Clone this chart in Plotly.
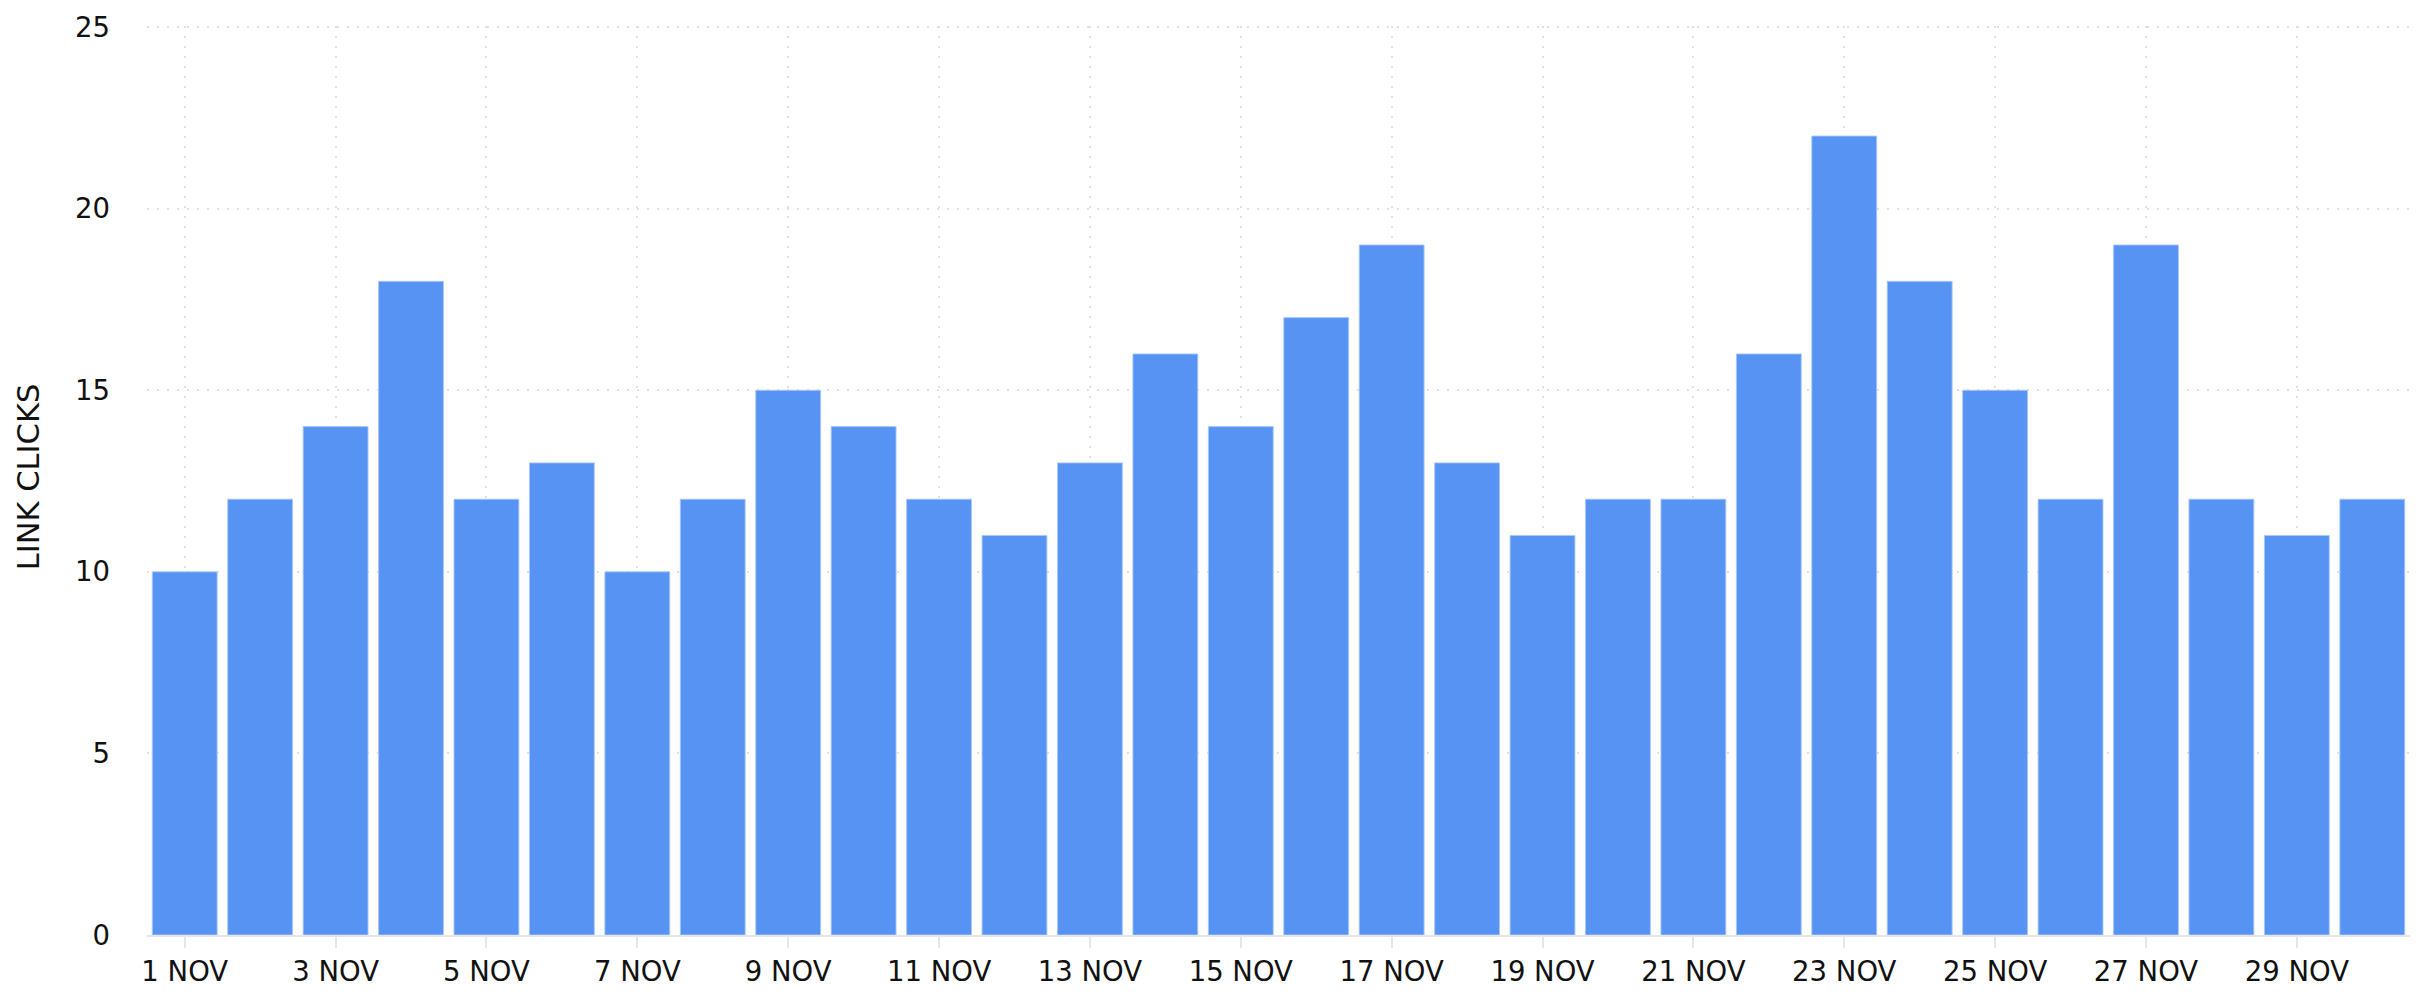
import plotly.graph_objects as go

days = [f"{d} NOV" for d in range(1, 31)]
link_clicks = [10, 12, 14, 18, 12, 13, 10, 12, 15, 14, 12, 11, 13, 16, 14,
               17, 19, 13, 11, 12, 12, 16, 22, 18, 15, 12, 19, 12, 11, 12]
tick_labels = days[::2]
y_ticks = [0, 5, 10, 15, 20, 25]

fig = go.Figure()
fig.add_trace(go.Bar(
    x=days, y=link_clicks,
    marker=dict(color="#5793f3", line=dict(color="rgba(170,200,250,0.9)", width=1)),
    hoverinfo="x+y",
))

font = dict(family="DejaVu Sans", size=27.5, color="#111111")
title_font = dict(family="DejaVu Sans", size=30.5, color="#111111")

# page body has an 8px default margin; compensate in figure size/margins
fig.update_layout(
    width=2409, height=984,
    margin=dict(l=139, r=7, t=18, b=57),
    paper_bgcolor="white", plot_bgcolor="white",
    bargap=0.14,
    showlegend=False,
    font=font,
)
fig.update_xaxes(
    type="category",
    tickmode="array", tickvals=tick_labels, ticktext=tick_labels,
    showline=True, linecolor="#e6e6e6", linewidth=2,
    ticks="outside", ticklen=11, tickwidth=2, tickcolor="#e6e6e6",
    showgrid=True, gridcolor="#e0e0e0", gridwidth=2, griddash="2px,8px",
    tickfont=font, automargin=False, ticklabeloverflow="allow",
    range=[-0.5, 29.5],
)
fig.update_yaxes(
    range=[0, 25.03], tickmode="array", tickvals=y_ticks,
    showline=False, zeroline=False,
    showgrid=True, gridcolor="#e0e0e0", gridwidth=2, griddash="2px,8px",
    ticks="", tickfont=font, ticklabelstandoff=36, automargin=False,
    ticklabeloverflow="allow",
)
fig.add_annotation(
    text="LINK CLICKS", textangle=-90,
    xref="paper", yref="paper", x=-0.052, y=0.504,
    xanchor="center", yanchor="middle", showarrow=False, font=title_font,
)

fig.write_html("out.html")
